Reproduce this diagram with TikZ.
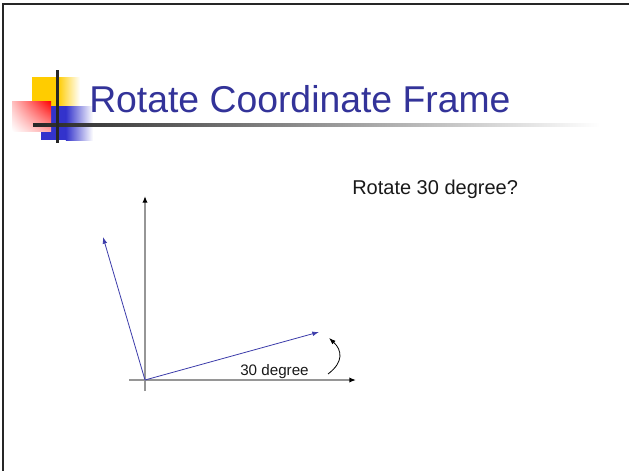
\documentclass[tikz,border=0pt]{standalone}
\usepackage{fontspec}
\setmainfont{Liberation Sans}
\usetikzlibrary{arrows.meta,shadings}
\definecolor{titleblue}{RGB}{51,51,153}
\definecolor{vecblue}{RGB}{60,60,170}
\definecolor{sqyellow}{RGB}{255,204,0}
\definecolor{sqblue}{RGB}{51,51,204}
\definecolor{sqred}{RGB}{255,0,0}
\definecolor{axisgray}{RGB}{150,150,150}
\tikzset{
  axisline/.style={draw=axisgray, line width=1.1pt, -{Latex[length=5pt,width=4pt,color=black]}},
  vecline/.style={draw=vecblue, line width=0.6pt, -{Latex[length=5pt,width=3.5pt]}},
  bentarrow/.style={draw=black, line width=0.6pt, -{Latex[length=5pt,width=3.5pt]}},
  titletext/.style={font=\fontsize{28}{32}\selectfont, text=titleblue, inner sep=0pt, anchor=base west},
  bodytext/.style={font=\fontsize{15}{18}\selectfont, text=black!90, inner sep=0pt, anchor=base west},
  smalltext/.style={font=\fontsize{11.4}{14}\selectfont, text=black!90, inner sep=0pt, anchor=base west},
}
\begin{document}
\begin{tikzpicture}[x=0.75pt,y=-0.75pt]
\useasboundingbox (0,0) rectangle (629,471);
\fill[white] (0,0) rectangle (629,471);
% frame
\draw[black!85, line width=1.6pt] (3,471) -- (3,4) -- (629,4);
% decoration squares
\fill[sqyellow] (32,77) rectangle (58,108);
\shade[left color=sqyellow, right color=white] (57.8,77) rectangle (80,108);
\fill[sqblue] (41,106) rectangle (66,140);
\shade[left color=sqblue, right color=white] (65.8,106) rectangle (93,140);
\shade[upper right=sqred, upper left=sqred!25, lower right=sqred!35, lower left=white] (12,101) rectangle (51,131);
% decoration lines
\shade[left color=black!85, right color=white] (33,123.5) rectangle (600,126.5);
\fill[black!85] (55.5,70) rectangle (58.5,143);
% title
\node[titletext] (title) at (89,112) {Rotate Coordinate Frame};
\node[bodytext] (question) at (352,194) {Rotate 30 degree?};
% axes
\coordinate (O) at (145,380);
\coordinate (xs) at (129,380);
\coordinate (xe) at (356,380);
\coordinate (ys) at (145,391);
\coordinate (ye) at (145,196);
\draw[axisline] (xs) -- (xe);
\draw[axisline] (ys) -- (ye);
% rotated vectors
\coordinate (v1) at (103,237);
\coordinate (v2) at (319,332);
\draw[vecline] (O) -- (v1);
\draw[vecline] (O) -- (v2);
% angle label and arc
\node[smalltext] (lbl) at (240,375.5) {30 degree};
\coordinate (as) at (328,374);
\coordinate (ae) at (329,338);
\draw[bentarrow] (as) .. controls (344,362) and (342,350) .. (ae);
\end{tikzpicture}
\end{document}
